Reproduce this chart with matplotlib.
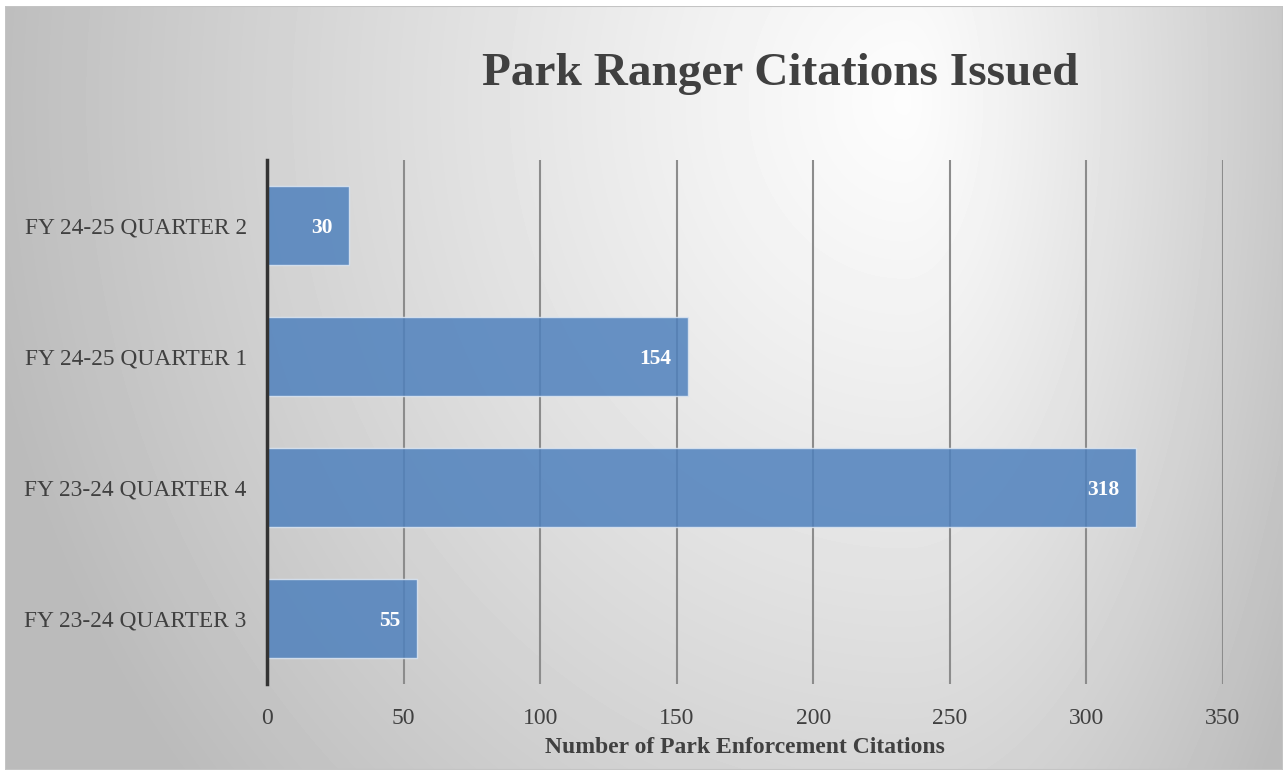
import numpy as np
import matplotlib.pyplot as plt
import matplotlib.patches as patches

quarters = ["FY 23-24 QUARTER 3", "FY 23-24 QUARTER 4", "FY 24-25 QUARTER 1", "FY 24-25 QUARTER 2"]
citations = [55, 318, 154, 30]
x_ticks = [0, 50, 100, 150, 200, 250, 300, 350]

plt.rcParams['font.family'] = ['Liberation Serif', 'DejaVu Serif']

W, H = 1287, 775
fig = plt.figure(figsize=(W / 100, H / 100), dpi=100)
fig.patch.set_facecolor('white')

# light-to-grey gradient behind the whole chart, brightest near the title
bg = fig.add_axes([5 / W, 1 - 770 / H, 1278 / W, 764 / H])
bg.set_axis_off()
yy, xx = np.mgrid[0:764, 0:1278]
cx, cy = 900, 95
sx = np.where(xx < cx, 850, 420)
r = np.hypot((xx - cx) / sx, (yy - cy) / 960)
shade = 0.99 - 0.23 * np.clip(r, 0, 1.1) ** 1.15
bg.imshow(shade, cmap='gray', vmin=0, vmax=1, aspect='auto', extent=[0, 1, 0, 1], zorder=0)
bg.add_patch(patches.Rectangle((0, 0), 1, 1, transform=bg.transAxes, fill=False,
                               edgecolor='#c4c4c4', linewidth=1.5))

ax = fig.add_axes([267 / W, 1 - 684 / H, (1223 - 267) / W, (684 - 160) / H])
ax.set_facecolor('none')
ypos = np.arange(len(quarters))
bars = ax.barh(ypos, citations, height=0.6, color='#4f81bd', alpha=0.85,
               edgecolor='#dce6f2', linewidth=1.0, zorder=3)
for b, v in zip(bars, citations):
    ax.text(b.get_width() - 6, b.get_y() + b.get_height() / 2, str(v),
            ha='right', va='center_baseline', color='white', fontsize=15.5,
            fontweight='bold', zorder=4)

ax.set_xlim(0, 350)
ax.set_ylim(-0.5, 3.5)
ax.set_xticks(x_ticks)
ax.set_yticks(ypos)
ax.set_yticklabels(quarters)
ax.xaxis.grid(True, color='#8c8c8c', linewidth=1.5, zorder=1)
ax.set_axisbelow(True)
ax.tick_params(axis='both', length=0, labelcolor='#404040')
ax.tick_params(axis='x', pad=17, labelsize=17)
ax.tick_params(axis='y', pad=14.5, labelsize=16.8)
for s in ['top', 'right', 'bottom']:
    ax.spines[s].set_visible(False)
ax.spines['left'].set_color('#333333')
ax.spines['left'].set_linewidth(2.5)
ax.spines['left'].set_zorder(5)

ax.set_xlabel('Number of Park Enforcement Citations', fontsize=17, fontweight='bold',
              color='#404040', labelpad=6)
fig.text(780 / W, 1 - 74 / H, 'Park Ranger Citations Issued', ha='center', va='center',
         fontsize=34, fontweight='bold', color='#404040')

fig.savefig('out.png', dpi=100)
